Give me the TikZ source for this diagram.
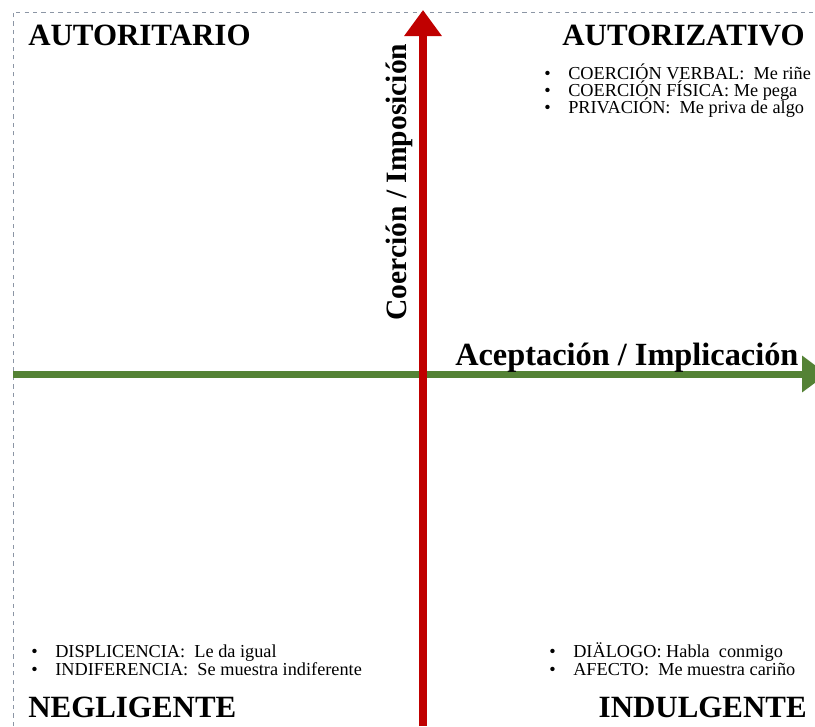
\documentclass[tikz,border=0pt]{standalone}
\usepackage{fontspec}
\setmainfont{Liberation Serif}
\usetikzlibrary{arrows.meta}
\definecolor{rojoeje}{RGB}{192,0,0}
\definecolor{verdeeje}{RGB}{84,130,53}
\definecolor{borde}{RGB}{140,150,165}
\tikzstyle{titulo} = [font=\fontsize{22}{24}\selectfont\bfseries, inner sep=0pt]
\tikzstyle{eje} = [font=\fontsize{23}{24}\selectfont\bfseries, inner sep=0pt]
\tikzstyle{lista} = [font=\fontsize{13}{14}\selectfont, inner sep=0pt, text height=8.5pt, text depth=2pt]
\newcommand{\vineta}{\makebox[0.6cm][l]{\textbullet}}

\begin{document}
\begin{tikzpicture}[x=0.025cm, y=-0.025cm]

        \useasboundingbox (0,0) rectangle (815,726);
        \draw[borde, dashed, line width=0.6pt] (13,726) -- (13,12) -- (815,12);

        \coordinate (izq) at (13,374);
        \coordinate (der) at (827,374);
        \coordinate (abajo) at (423,726);
        \coordinate (arriba) at (423,10);
        \draw[verdeeje, line width=0.175cm, -{Triangle[length=0.62cm, width=0.875cm]}] (izq) -- (der);
        \draw[rojoeje, line width=0.19cm, -{Triangle[length=0.65cm, width=0.9cm]}] (abajo) -- (arriba);

        \node (aceptacion) [eje, anchor=base west] at (455,365) {Aceptación / Implicación};
        \node (coercion) [eje, font=\fontsize{21}{24}\selectfont\bfseries, rotate=90, anchor=base] at (406,182) {Coerción / Imposición};

        \node (autoritario) [titulo, anchor=base west] at (28,45) {AUTORITARIO};
        \node (autorizativo) [titulo, anchor=base east] at (805,45) {AUTORIZATIVO};
        \node (negligente) [titulo, anchor=base west] at (28,717) {NEGLIGENTE};
        \node (indulgente) [titulo, anchor=base east] at (807,717) {INDULGENTE};

        \node (verbal) [lista, anchor=base west] at (544,79) {\vineta COERCIÓN VERBAL:~ Me riñe};
        \node (fisica) [lista, anchor=base west] at (544,96) {\vineta COERCIÓN FÍSICA: Me pega};
        \node (privacion) [lista, anchor=base west] at (544,113) {\vineta PRIVACIÓN:~ Me priva de algo};

        \node (displicencia) [lista, anchor=base west] at (31,657) {\vineta DISPLICENCIA:~ Le da igual};
        \node (indiferencia) [lista, anchor=base west] at (31,675) {\vineta INDIFERENCIA:~ Se muestra indiferente};

        \node (dialogo) [lista, anchor=base west] at (549,657) {\vineta DIÄLOGO: Habla~ conmigo};
        \node (afecto) [lista, anchor=base west] at (549,675) {\vineta AFECTO:~ Me muestra cariño};

\end{tikzpicture}
\end{document}
